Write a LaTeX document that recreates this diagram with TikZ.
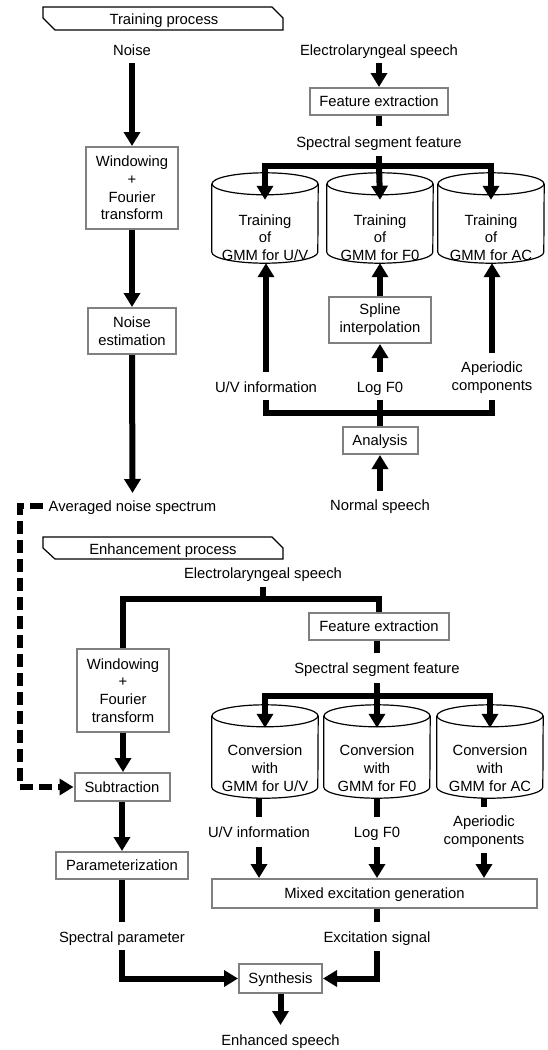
\documentclass[tikz,border=0pt]{standalone}
\usepackage{fontspec}
\setmainfont{Liberation Sans}
\usetikzlibrary{arrows.meta}
\definecolor{boxgray}{RGB}{128,128,128}
\newcommand\mycyl[4]{%
  \node[minimum width=106pt,minimum height=#4pt,inner sep=0pt] (#1) at (#2,#3) {};
  \draw[line width=1.2pt] ([yshift=-11pt]#1.north west) -- ([yshift=11pt]#1.south west)
     arc[start angle=180,end angle=360,x radius=53pt,y radius=11pt] -- ([yshift=-11pt]#1.north east);
  \draw[line width=1.2pt] ([yshift=-11pt]#1.north) ellipse [x radius=53pt,y radius=11pt];
}
\begin{document}
\begin{tikzpicture}[x=1pt,y=-1pt,
  every node/.style={font=\fontsize{14.8pt}{17.7pt}\selectfont, inner sep=0pt, align=center},
  lbl/.style={text height=10.6pt, text depth=0pt},
  box/.style={draw=boxgray, line width=2pt, fill=white},
  sbox/.style={box, text height=10.6pt, text depth=0pt},
  line/.style={line width=6pt},
  arr/.style={line width=6pt, -{Triangle[width=16pt,length=14pt]}},
  dline/.style={line width=5.5pt, dash pattern=on 13pt off 6pt, -{Triangle[width=16pt,length=14pt]}},
  banner/.style={line width=1.2pt}
]
\useasboundingbox (0,0) rectangle (547,1050);

% ---------------- Training process ----------------
\draw[banner] (43,7) -- (272,7) -- (283,18) -- (283,30) -- (55,30) -- (43,18) -- cycle;
\node[lbl] (tp) at (164,19) {Training process};

\node[lbl] (noise) at (132,50) {Noise};
\node[box, minimum width=92pt, minimum height=82pt] (win1) at (132,188) {Windowing\\+\\Fourier\\transform};
\node[box, minimum width=88pt, minimum height=46pt] (nest1) at (132,331) {Noise\\estimation};
\node[lbl] (avg) at (132.5,506) {Averaged noise spectrum};

\node[lbl] (el1) at (379,50) {Electrolaryngeal speech};
\node[sbox, minimum width=138pt, minimum height=27pt] (fe1) at (379,101.5) {Feature extraction};
\node[lbl] (ssf1) at (379,142) {Spectral segment feature};
\coordinate (bus1) at (379,166);

\mycyl{tUV}{265}{218}{90}
\mycyl{tF0}{380}{218}{90}
\mycyl{tAC}{491}{218}{90}
\node (tUVt) at (265,237.5) {Training\\of\\GMM for U/V};
\node (tF0t) at (380,237.5) {Training\\of\\GMM for F0};
\node (tACt) at (491,237.5) {Training\\of\\GMM for AC};

\node[box, minimum width=102pt, minimum height=46pt] (spline) at (380,320) {Spline\\interpolation};
\node[lbl] (uv1) at (266,387) {U/V information};
\node[lbl] (logf0) at (380,387) {Log F0};
\node (aper1) at (492,377.5) {Aperiodic\\components};
\coordinate (ab) at (380,413);
\node[sbox, minimum width=75pt, minimum height=27pt] (analysis) at (380,440.5) {Analysis};
\node[lbl] (normal) at (380,505) {Normal speech};

\draw[arr] ([yshift=-13pt]noise.center) -- (win1.north);
\draw[arr] (win1.south) -- (nest1.north);
\draw[arr] (nest1.south) -- ([yshift=13pt]avg.center);

\draw[arr] ([yshift=-13pt]el1.center) -- (fe1.north);
\draw[line] (fe1.south) -- ([yshift=16pt]ssf1.center);
\draw[line] ([yshift=-14pt]ssf1.center) -- (bus1);
\draw[arr] (bus1) -| ([yshift=-27pt]tUV.north);
\draw[arr] (bus1) -| ([yshift=-27pt]tAC.north);
\draw[arr] (bus1) -- ([yshift=-27pt]tF0.north);

\draw[arr] ([yshift=15pt]uv1.center) -- (uv1.center |- tUV.south);
\draw[arr] ([yshift=15pt]logf0.center) -- (spline.south);
\draw[arr] (spline.north) -- (tF0.south);
\draw[arr] ([yshift=24.5pt]aper1.center) -- (aper1.center |- tAC.south);
\draw[line] ([yshift=-13pt]uv1.center) -- (uv1.center |- ab) -- (aper1.center |- ab) -- ([yshift=-22.5pt]aper1.center);
\draw[line] (analysis.north) -- ([yshift=-13pt]logf0.center);
\draw[arr] ([yshift=14pt]normal.center) -- (analysis.south);

% ---------------- Enhancement process ----------------
\draw[banner] (43,537) -- (272,537) -- (283,548) -- (283,559) -- (55,559) -- (43,548) -- cycle;
\node[lbl] (ep) at (163,549) {Enhancement process};

\node[lbl] (el2) at (263,573) {Electrolaryngeal speech};
\coordinate (eb) at (263,599);
\node[box, minimum width=92pt, minimum height=83pt] (win2) at (123,690.5) {Windowing\\+\\Fourier\\transform};
\node[sbox, minimum width=95pt, minimum height=28pt] (sub) at (122,787) {Subtraction};
\node[sbox, minimum width=132pt, minimum height=27pt] (param) at (122,865.5) {Parameterization};
\node[lbl] (specp) at (122,937) {Spectral parameter};

\node[sbox, minimum width=140pt, minimum height=27pt] (fe2) at (379,626.5) {Feature extraction};
\node[lbl] (ssf2) at (377,668) {Spectral segment feature};
\coordinate (bus3) at (377,696);

\mycyl{cUV}{265}{751.5}{93}
\mycyl{cF0}{377}{751.5}{93}
\mycyl{cAC}{490}{751.5}{93}
\node (cUVt) at (265,768) {Conversion\\with\\GMM for U/V};
\node (cF0t) at (377,768) {Conversion\\with\\GMM for F0};
\node (cACt) at (490,768) {Conversion\\with\\GMM for AC};

\node[lbl] (uv2) at (259,832) {U/V information};
\node[lbl] (logf02) at (377,832) {Log F0};
\node (aper2) at (484,832) {Aperiodic\\components};
\node[sbox, minimum width=325pt, minimum height=29pt] (mixed) at (374.5,893.5) {Mixed excitation generation};
\node[lbl] (excit) at (377,937) {Excitation signal};
\node[sbox, minimum width=83pt, minimum height=29pt] (synth) at (280.5,978.5) {Synthesis};
\node[lbl] (enh) at (280.5,1040) {Enhanced speech};

\draw[line] ([yshift=-14pt]el2.center) -- (eb);
\draw[line] (eb) -| (win2.north);
\draw[line] (eb) -| (fe2.north);
\draw[arr] (win2.south) -- (win2.south |- sub.north);
\draw[arr] (sub.south) -- (param.north);
\draw[line] (param.south) -- ([yshift=15pt]specp.center);
\draw[arr] ([yshift=-13pt]specp.center) |- (synth.west);

\draw[line] (fe2.south -| ssf2.center) -- ([yshift=15pt]ssf2.center);
\draw[line] ([yshift=-15pt]ssf2.center) -- (bus3);
\draw[arr] (bus3) -| ([yshift=-23pt]cUV.north);
\draw[arr] (bus3) -| ([yshift=-23pt]cAC.north);
\draw[arr] (bus3) -- ([yshift=-23pt]cF0.north);

\draw[line] (uv2.center |- cUV.south) -- ([yshift=15pt]uv2.center);
\draw[arr] ([yshift=-15pt]uv2.center) -- (uv2.center |- mixed.north);
\draw[line] (logf02.center |- cF0.south) -- ([yshift=15pt]logf02.center);
\draw[arr] ([yshift=-15pt]logf02.center) -- (logf02.center |- mixed.north);
\draw[line] (aper2.center |- cAC.south) -- ([yshift=25pt]aper2.center);
\draw[arr] ([yshift=-21pt]aper2.center) -- (aper2.center |- mixed.north);

\draw[line] (excit.center |- mixed.south) -- ([yshift=15pt]excit.center);
\draw[arr] ([yshift=-14pt]excit.center) |- (synth.east);
\draw[arr] (synth.south) -- ([yshift=15pt]enh.center);

% dashed feedback
\coordinate (dcorner) at (20,506);
\draw[dline] ([xshift=-6pt]avg.west) -- (dcorner) |- (sub.west);
\end{tikzpicture}
\end{document}
